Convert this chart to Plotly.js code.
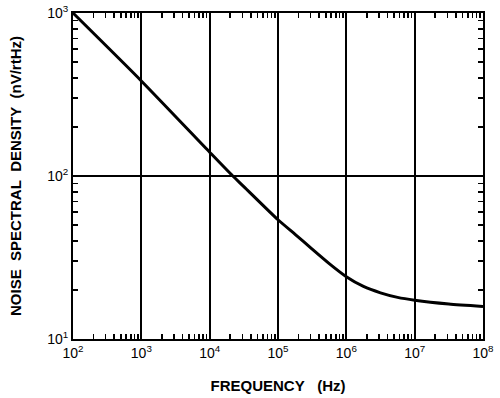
<!DOCTYPE html>
<html>
<head>
<meta charset="utf-8">
<script src="https://cdn.plot.ly/plotly-3.0.1.min.js"></script>
<style>html,body{margin:0;padding:0;background:#fff;}#chart{width:500px;height:398px;}</style>
</head>
<body>
<div id="chart"></div>
<script>
const frequencyHz = [1e2, 1e3, 1e4, 2.18e4, 3.16e4, 1e5, 1.78e5, 3.16e5, 5.62e5, 1e6, 1.78e6, 3.16e6, 5.62e6, 1e7, 3.16e7, 1e8];
const noiseDensity = [1000, 383, 140, 100, 86.1, 53.9, 43.9, 35.6, 29.0, 24.1, 21.0, 19.2, 18.0, 17.3, 16.4, 15.85];

const xTickVals = [1e2, 1e3, 1e4, 1e5, 1e6, 1e7, 1e8];
const xTickText = ['10<sup>2</sup>', '10<sup>3</sup>', '10<sup>4</sup>', '10<sup>5</sup>', '10<sup>6</sup>', '10<sup>7</sup>', '10<sup>8</sup>'];
const yTickVals = [10, 100, 1000];
const yTickText = ['10<sup>1</sup>', '10<sup>2</sup>', '10<sup>3</sup>'];

const xTitle = 'FREQUENCY\u00a0\u00a0\u00a0(Hz)';
const yTitle = 'NOISE\u00a0\u00a0SPECTRAL\u00a0\u00a0DENSITY\u00a0\u00a0(nV/rtHz)';

const fontFamily = '"Liberation Sans", Arial, Helvetica, sans-serif';

const trace = {
  x: frequencyHz,
  y: noiseDensity,
  type: 'scatter',
  mode: 'lines',
  line: {color: '#000', width: 3, shape: 'spline', smoothing: 0.6},
  hoverinfo: 'skip'
};

const axisCommon = {
  type: 'log',
  showline: true,
  linecolor: '#000',
  linewidth: 2,
  mirror: 'ticks',
  showgrid: true,
  gridcolor: '#000',
  gridwidth: 2,
  zeroline: false,
  ticks: 'inside',
  ticklen: 5,
  tickwidth: 1.5,
  tickcolor: '#000',
  tickmode: 'array',
  tickfont: {family: fontFamily, size: 14, color: '#000'},
  minor: {ticks: 'inside', ticklen: 5, tickwidth: 1.5, tickcolor: '#000', dtick: 'D1', showgrid: false},
  automargin: false
};

const layout = {
  width: 500,
  height: 398,
  margin: {l: 73, r: 17, t: 13, b: 59},
  paper_bgcolor: '#fff',
  plot_bgcolor: '#fff',
  showlegend: false,
  font: {family: fontFamily, color: '#000'},
  xaxis: Object.assign({}, axisCommon, {
    range: [2, 8],
    tickvals: xTickVals,
    ticktext: xTickText,
    title: {text: xTitle, font: {family: fontFamily, size: 15, weight: 'bold', color: '#000'}, standoff: 21}
  }),
  yaxis: Object.assign({}, axisCommon, {
    range: [1, 3],
    tickvals: yTickVals,
    ticktext: yTickText,
    title: {text: yTitle, font: {family: fontFamily, size: 15, weight: 'bold', color: '#000'}, standoff: 22}
  })
};

Plotly.newPlot('chart', [trace], layout, {displayModeBar: false, staticPlot: true});
</script>
</body>
</html>
